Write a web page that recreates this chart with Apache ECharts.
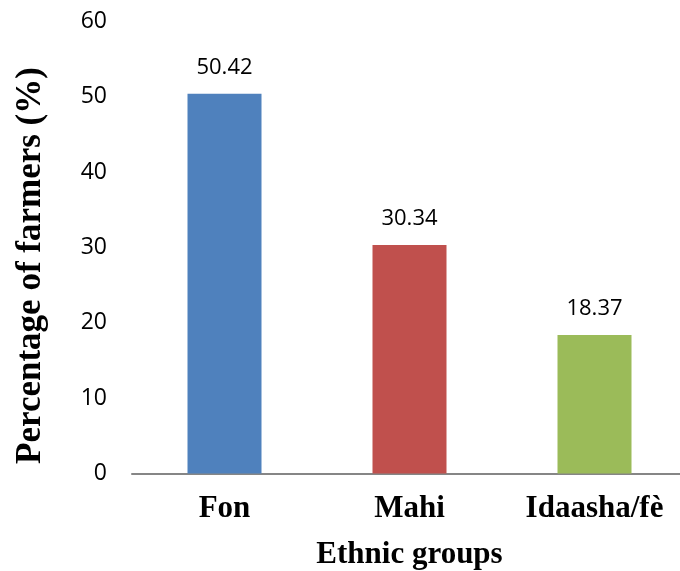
<!DOCTYPE html>
<html>
<head>
<meta charset="utf-8">
<script src="https://cdn.jsdelivr.net/npm/echarts@6/dist/echarts.min.js"></script>
<style>
  html, body { margin: 0; padding: 0; background: #fff; }
  #chart { width: 680px; height: 571px; }
</style>
</head>
<body>
<div id="chart"></div>
<script>
// Share of surveyed farmers by ethnic group
const categories = ['Fon', 'Mahi', 'Idaasha/fè'];
const percentages = [50.42, 30.34, 18.37];
const barColors = ['#4F81BD', '#C0504D', '#9BBB59'];
const yTicks = { min: 0, max: 60, interval: 10 };

const chart = echarts.init(document.getElementById('chart'));

chart.setOption({
  animation: false,
  backgroundColor: '#ffffff',
  // the category axis runs slightly past the right edge of the canvas
  grid: {
    left: 132, top: 21.5, right: -7, bottom: 97.5,
    containLabel: false,
    outerBoundsMode: 'none'
  },
  xAxis: {
    type: 'category',
    data: categories,
    axisLine: { show: true, lineStyle: { color: '#868686', width: 2 } },
    axisTick: { show: false },
    axisLabel: {
      margin: 20,
      color: '#000',
      fontFamily: 'Liberation Serif',
      fontWeight: 'bold',
      fontSize: 31
    },
    name: 'Ethnic groups',
    nameLocation: 'middle',
    nameGap: 66,
    nameTextStyle: {
      color: '#000',
      fontFamily: 'Liberation Serif',
      fontWeight: 'bold',
      fontSize: 31,
      verticalAlign: 'top'
    }
  },
  yAxis: {
    type: 'value',
    min: yTicks.min,
    max: yTicks.max,
    interval: yTicks.interval,
    axisLine: { show: false },
    axisTick: { show: false },
    splitLine: { show: false },
    axisLabel: {
      margin: 25,
      color: '#000',
      fontFamily: 'Open Sans',
      fontSize: 23
    }
  },
  graphic: [{
    type: 'text',
    x: 31,
    y: 265.5,
    rotation: Math.PI / 2,
    style: {
      text: 'Percentage of farmers (%)',
      fill: '#000',
      font: 'bold 35px "Liberation Serif"',
      textAlign: 'center',
      textVerticalAlign: 'middle'
    }
  }],
  series: [{
    type: 'bar',
    barWidth: '40%',
    data: percentages.map((v, i) => ({ value: v, itemStyle: { color: barColors[i] } })),
    label: {
      show: true,
      position: 'top',
      distance: 15,
      color: '#000',
      fontFamily: 'Open Sans',
      fontSize: 22,
      formatter: p => p.value.toFixed(2)
    }
  }]
});
</script>
</body>
</html>
